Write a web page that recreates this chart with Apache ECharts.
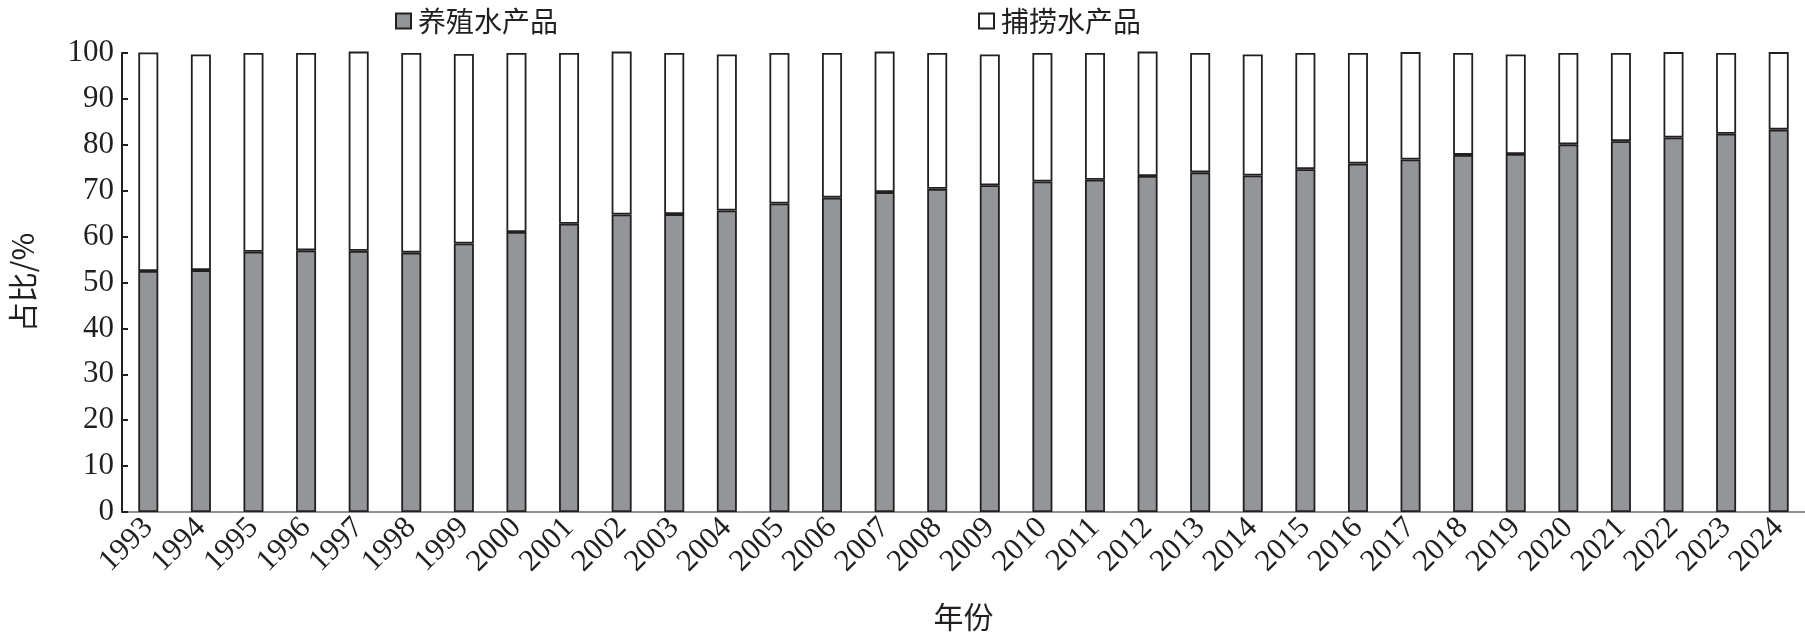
<!DOCTYPE html>
<html>
<head>
<meta charset="utf-8">
<script src="https://cdn.jsdelivr.net/npm/echarts@6/dist/echarts.min.js"></script>
<style>
html,body{margin:0;padding:0;background:#fff;}
#main{width:1805px;height:637px;}
</style>
</head>
<body>
<div id="main"></div>
<script>
var years = ['1993','1994','1995','1996','1997','1998','1999','2000','2001','2002','2003','2004','2005','2006','2007','2008','2009','2010','2011','2012','2013','2014','2015','2016','2017','2018','2019','2020','2021','2022','2023','2024'];
var aquaculture = [52.5,52.7,56.7,57.0,56.9,56.5,58.5,61.0,62.8,64.8,64.9,65.7,67.2,68.5,69.7,70.4,71.2,72.0,72.4,73.2,74.0,73.3,74.7,75.9,76.8,77.8,78.0,80.1,80.8,81.6,82.4,83.3];
var capture = [47.6,47.0,43.3,43.0,43.4,43.5,41.3,39.0,37.2,35.5,35.1,34.0,32.8,31.5,30.6,29.6,28.5,28.0,27.6,27.1,26.0,26.4,25.3,24.1,23.4,22.2,21.7,19.9,19.2,18.6,17.6,16.9];
var yTicks = [0,10,20,30,40,50,60,70,80,90,100];

var serif = '"Liberation Serif","DejaVu Serif",serif';
var cjk = '"Noto Sans CJK SC","Liberation Serif",sans-serif';
var chart = echarts.init(document.getElementById('main'), null, {renderer:'canvas'});
chart.setOption({
  animation:false,
  backgroundColor:'#fff',
  legend:{
    left:390, top:2, itemGap:420, itemWidth:15, itemHeight:15,
    icon:'rect',
    textStyle:{fontFamily:cjk, fontSize:28, color:'#231f20', padding:[0,0,0,2]},
    data:['养殖水产品','捕捞水产品']
  },
  grid:{left:116.5, right:0, top:53, bottom:124, containLabel:false},
  xAxis:{
    type:'category', data:years, boundaryGap:true,
    name:'年份', nameLocation:'middle', nameGap:90,
    nameTextStyle:{fontFamily:cjk, fontSize:30, color:'#231f20'},
    axisLine:{lineStyle:{color:'#6d6e71', width:1.5}},
    axisTick:{show:false},
    axisLabel:{rotate:45, margin:11, padding:[16,0,0,0], fontFamily:serif, fontSize:31, color:'#231f20', interval:0}
  },
  yAxis:{
    type:'value', min:yTicks[0], max:yTicks[yTicks.length-1], interval:10,
    name:'占比/%', nameLocation:'middle', nameGap:84, nameRotate:90,
    nameTextStyle:{fontFamily:cjk, fontSize:30, color:'#231f20'},
    axisLine:{show:true, lineStyle:{color:'#231f20', width:2}},
    axisTick:{show:true, inside:true, length:6, lineStyle:{color:'#231f20', width:2}},
    splitLine:{show:false},
    axisLabel:{margin:8, fontFamily:serif, fontSize:31, color:'#231f20'}
  },
  series:[
    {name:'养殖水产品', type:'bar', stack:'total', data:aquaculture, barWidth:20, clip:false,
     itemStyle:{color:'#939598', borderColor:'#231f20', borderWidth:1.8}},
    {name:'捕捞水产品', type:'bar', stack:'total', data:capture, barWidth:20, clip:false,
     itemStyle:{color:'#ffffff', borderColor:'#231f20', borderWidth:1.8}}
  ]
});
</script>
</body>
</html>
